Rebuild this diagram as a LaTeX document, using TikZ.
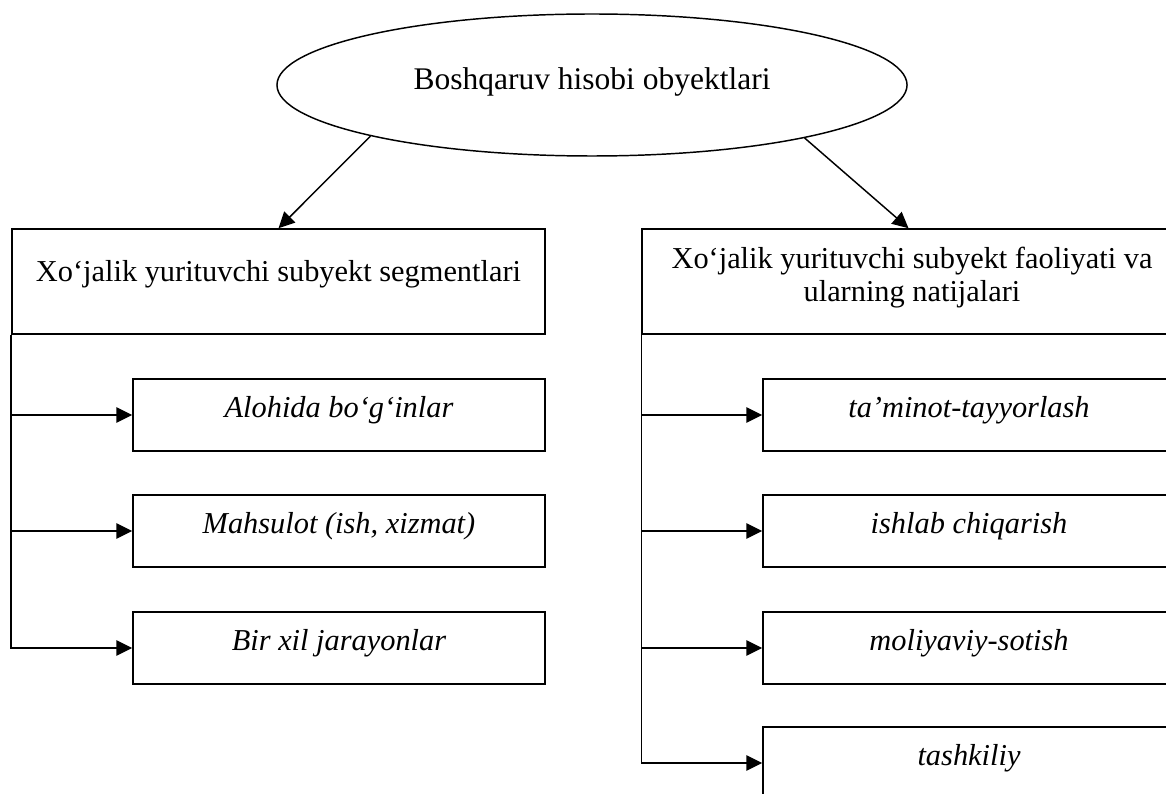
\documentclass[tikz,border=0pt]{standalone}
\usepackage{fontspec}
\setmainfont{Liberation Serif}
\usetikzlibrary{arrows.meta,shapes.geometric}

\begin{document}
\begin{tikzpicture}[
  x=0.4444pt, y=-0.4444pt,
  line width=0.65pt,
  font=\fontsize{13.5}{15.1}\selectfont,
  arr/.style={-{Triangle[length=7.1pt,width=6.9pt]}},
  headbox/.style={draw, rectangle, inner sep=0pt, minimum width=236.9pt, minimum height=46.7pt},
  subbox/.style={draw, rectangle, inner sep=0pt, minimum width=183.1pt, minimum height=32pt},
  oval/.style={draw, ellipse, inner sep=0pt, minimum width=280pt, minimum height=63.1pt},
  label/.style={anchor=base, inner sep=0pt, align=center},
  itlabel/.style={label, font=\fontsize{13.5}{15.1}\selectfont\itshape}
]
\useasboundingbox (0,0) rectangle (1166,794);
\clip (0,0) rectangle (1166,794);

% top ellipse
\node[oval] (top) at (592,85) {};
\node[label, font=\fontsize{14}{16.1}\selectfont] (toptext) at (592,90) {Boshqaruv hisobi obyektlari};

% the two main boxes
\node[headbox] (lh) at (278.5,281.5) {};
\node[label] (lhtext) at (278.5,282) {Xo‘jalik yurituvchi subyekt segmentlari};
\node[headbox] (rh) at (908.5,281.5) {};
% two-line title: the base anchor sits on the second line
\node[label] (rhtext) at (912,302) {Xo‘jalik yurituvchi subyekt faoliyati va\\ularning natijalari};

% left column
\node[subbox] (l1) at (339,415) {};
\node[subbox] (l2) at (339,531) {};
\node[subbox] (l3) at (339,648) {};
\node[itlabel] (l1t) at (339,417) {Alohida bo‘g‘inlar};
\node[itlabel] (l2t) at (339,533) {Mahsulot (ish, xizmat)};
\node[itlabel] (l3t) at (339,650) {Bir xil jarayonlar};

% right column
\node[subbox] (r1) at (969,415) {};
\node[subbox] (r2) at (969,531) {};
\node[subbox] (r3) at (969,648) {};
\node[subbox] (r4) at (969,763) {};
\node[itlabel] (r1t) at (969,417) {ta’minot-tayyorlash};
\node[itlabel] (r2t) at (969,533) {ishlab chiqarish};
\node[itlabel] (r3t) at (969,650) {moliyaviy-sotish};
\node[itlabel] (r4t) at (969,765) {tashkiliy};

% arrows from the ellipse
\draw[arr] (top.193.7) -- (lh.north);
\draw[arr] (top.346.4) -- (rh.north);

% left branches
\draw[arr] (lh.south west) |- (l3.west);
\draw[arr] (lh.south west |- l1.west) -- (l1.west);
\draw[arr] (lh.south west |- l2.west) -- (l2.west);

% right branches
\draw[arr] (rh.south west) |- (r4.west);
\draw[arr] (rh.south west |- r1.west) -- (r1.west);
\draw[arr] (rh.south west |- r2.west) -- (r2.west);
\draw[arr] (rh.south west |- r3.west) -- (r3.west);
\end{tikzpicture}
\end{document}
